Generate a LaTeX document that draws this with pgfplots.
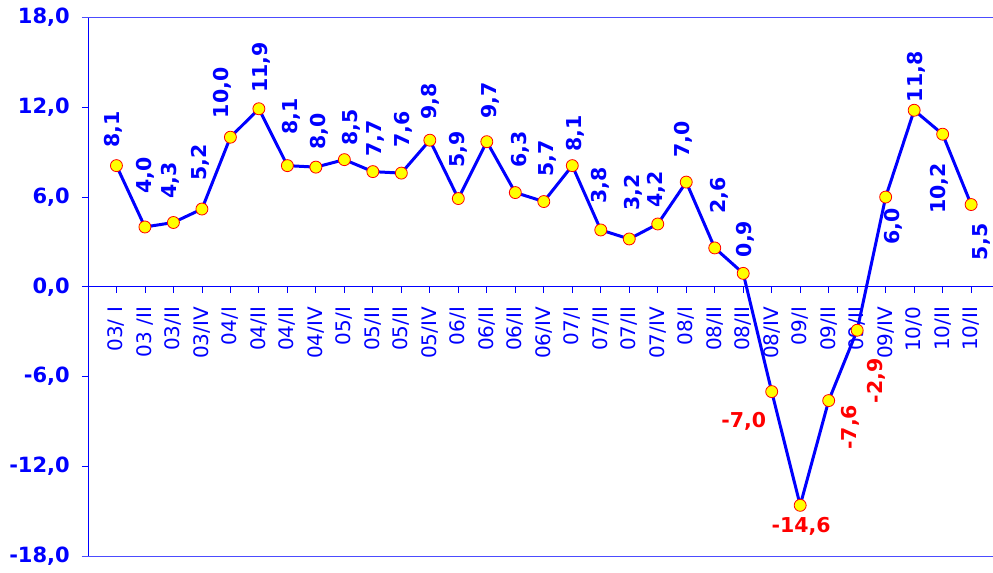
\documentclass[border=0pt]{standalone}
\usepackage{pgfplots}
\usepackage{pgfplotstable}
\pgfplotsset{compat=1.18}
\usepackage{fontspec}
\setmainfont{DejaVu Sans}
\definecolor{cblue}{RGB}{0,0,255}
\definecolor{cred}{RGB}{255,0,0}
\definecolor{cyel}{RGB}{255,255,0}

\pgfplotstableread{
x y
0 8.1
1 4.0
2 4.3
3 5.2
4 10.0
5 11.9
6 8.1
7 8.0
8 8.5
9 7.7
10 7.6
11 9.8
12 5.9
13 9.7
14 6.3
15 5.7
16 8.1
17 3.8
18 3.2
19 4.2
20 7.0
21 2.6
22 0.9
23 -7.0
24 -14.6
25 -7.6
26 -2.9
27 6.0
28 11.8
29 10.2
30 5.5
}\maindata

% blue labels above the point (anchor west, rotated)
\pgfplotstableread{
x y lab dx dy
0 8.1 8,1 -3 18
1 4.0 4,0 0 33
2 4.3 4,3 -3 24
3 5.2 5,2 -2 28
4 10.0 10,0 -8 19
5 11.9 11,9 2 16
6 8.1 8,1 4 31
7 8.0 8,0 3 17
8 8.5 8,5 7 14
9 7.7 7,7 3 15
10 7.6 7,6 2 25
11 9.8 9,8 1 20
12 5.9 5,9 0 31
13 9.7 9,7 4 23
14 6.3 6,3 5 25
15 5.7 5,7 4 25
16 8.1 8,1 3 14
17 3.8 3,8 0 26
18 3.2 3,2 4 28
19 4.2 4,2 -1 16
20 7.0 7,0 -3 24
21 2.6 2,6 5 34
22 0.9 0,9 2 16
28 11.8 11,8 2 8
}\labup

% blue labels below the point (anchor east, rotated)
\pgfplotstableread{
x y lab dx dy
27 6.0 6,0 8 -11
29 10.2 10,2 -3 -29
30 5.5 5,5 10 -19
}\labdown

% red labels, rotated, below
\pgfplotstableread{
x y lab dx dy
25 -7.6 -7,6 22 -4
26 -2.9 -2,9 19 -28
}\labredrot

% red labels, horizontal
\pgfplotstableread{
x y lab dx dy
23 -7.0 -7,0 -28 -30
24 -14.6 -14,6 1 -21
}\labredhor

\pgfplotsset{
  lblplot/.style 2 args={draw=none, mark=none,
    point meta=explicit symbolic,
    visualization depends on={\thisrow{dx} \as \dx},
    visualization depends on={\thisrow{dy} \as \dy},
    nodes near coords,
    every node near coord/.append style={font=\fontsize{20.5}{23}\selectfont\bfseries, inner sep=0pt, xshift=\dx pt, yshift=\dy pt, text=#1, #2}},
}

\begin{document}
\begin{tikzpicture}
\begin{axis}[
  scale only axis,
  width=905pt, height=539pt,
  xmin=-1, xmax=30.75,
  ymin=-18, ymax=18,
  clip=false,
  axis x line=middle,
  axis y line=left,
  axis line style={-, draw=cblue, line width=0.8pt},
  hide obscured x ticks=false,
  hide obscured y ticks=false,
  tick align=outside,
  major tick length=6pt,
  tick style={draw=cblue, line width=0.8pt},
  xtick={0,...,30},
  xticklabels={03/ I,03 /II,03/II,03/IV,04/I,04/II,04/II,04/IV,05/I,05/II,05/II,05/IV,06/I,06/II,06/II,06/IV,07/I,07/II,07/II,07/IV,08/I,08/II,08/II,08/IV,09/I,09/II,09/II,09/IV,10/0,10/II,10/II},
  xticklabel style={yshift=-14pt, rotate=90, anchor=east, text=cblue, font=\fontsize{20}{23}\selectfont, inner sep=0pt},
  ytick={-18,-12,-6,0,6,12,18},
  yticklabels={{-18,0},{-12,0},{-6,0},{0,0},{6,0},{12,0},{18,0}},
  yticklabel style={anchor=east, text=cblue, font=\fontsize{21}{24}\selectfont\bfseries, inner sep=0pt, xshift=-12pt},
]
\coordinate (BL) at (rel axis cs:0,0);
\coordinate (TR) at (rel axis cs:1,1);
\coordinate (TL) at (rel axis cs:0,1);
\coordinate (BR) at (rel axis cs:1,0);
\addplot[cblue, line width=3pt, mark=*, mark size=6pt,
  mark options={fill=cyel, draw=cred, line width=0.8pt}] table[x=x, y=y] {\maindata};
\addplot[lblplot={cblue}{rotate=90, anchor=west}] table[x=x, y=y, meta=lab] {\labup};
\addplot[lblplot={cblue}{rotate=90, anchor=east}] table[x=x, y=y, meta=lab] {\labdown};
\addplot[lblplot={cred}{rotate=90, anchor=east}] table[x=x, y=y, meta=lab] {\labredrot};
\addplot[lblplot={cred}{anchor=center}] table[x=x, y=y, meta=lab] {\labredhor};
\end{axis}
\draw[cblue!70, line width=1pt] ([xshift=-6pt]TL) -- (TR);
\draw[cblue!70, line width=1pt] ([xshift=-6pt]BL) -- (BR);
\useasboundingbox ([xshift=-88pt, yshift=-16.5pt]BL) rectangle ([yshift=17.5pt]TR);
\end{tikzpicture}
\end{document}
